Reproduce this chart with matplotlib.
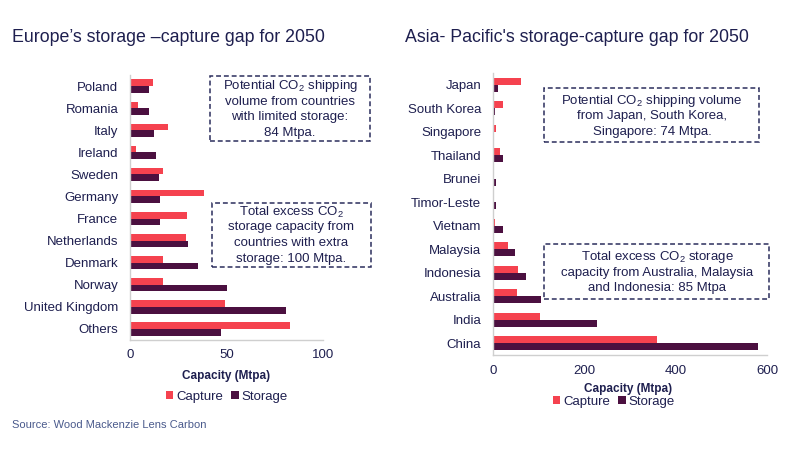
import matplotlib
matplotlib.use("Agg")
import matplotlib.pyplot as plt
import numpy as np
from matplotlib.patches import Rectangle

plt.rcParams['font.family'] = ['Liberation Sans', 'DejaVu Sans']
plt.rcParams['mathtext.fontset'] = 'custom'
plt.rcParams['mathtext.rm'] = 'Liberation Sans'
plt.rcParams['mathtext.it'] = 'Liberation Sans:italic'

# ---- data ----
eu_countries = ["Poland", "Romania", "Italy", "Ireland", "Sweden", "Germany", "France",
                "Netherlands", "Denmark", "Norway", "United Kingdom", "Others"]
eu_capture = [11.7, 4.3, 19.8, 2.9, 16.9, 38.6, 29.3, 29.0, 16.9, 17.2, 49.1, 83.1]
eu_storage = [9.8, 9.8, 12.4, 13.4, 15.2, 15.7, 15.7, 30.0, 35.2, 50.3, 80.7, 47.2]
eu_ticks = [0, 50, 100]

ap_countries = ["Japan", "South Korea", "Singapore", "Thailand", "Brunei", "Timor-Leste",
                "Vietnam", "Malaysia", "Indonesia", "Australia", "India", "China"]
ap_capture = [61, 22, 6, 16, 0, 0, 4, 33, 54, 53, 104, 360]
ap_storage = [10, 4, 0, 21, 6, 7, 21, 49, 72, 105, 227, 580]
ap_ticks = [0, 200, 400, 600]

series_names = ["Capture", "Storage"]
title_eu = "Europe\u2019s storage \u2013capture gap for 2050"
title_ap = "Asia- Pacific's storage-capture gap for 2050"
xlabel = "Capacity (Mtpa)"
source = "Source: Wood Mackenzie Lens Carbon"

eu_box1 = ["Potential CO$_\\mathrm{2}$ shipping", "volume from countries",
           "with limited storage:", "84 Mtpa."]
eu_box2 = ["Total excess CO$_\\mathrm{2}$", "storage capacity from",
           "countries with extra", "storage: 100 Mtpa."]
ap_box1 = ["Potential CO$_\\mathrm{2}$ shipping volume", "from Japan, South Korea,",
           "Singapore: 74 Mtpa."]
ap_box2 = ["Total excess CO$_\\mathrm{2}$ storage", "capacity from Australia, Malaysia",
           "and Indonesia: 85 Mtpa"]

CAP = "#F5424F"
STO = "#4B1040"
NAVY = "#1E1F4F"
GRID = "#CFCFCF"

W, H = 800, 450
fig = plt.figure(figsize=(8, 4.5), dpi=100)


def fx(px):
    return px / W


def fy(py):
    return 1 - py / H


def draw(ax, cats, cap, sto, ticks, xmax, pad_y, pad_x):
    y = np.arange(len(cats))
    h = 0.3
    ax.barh(y - h / 2, cap, height=h, color=CAP, label=series_names[0])
    ax.barh(y + h / 2, sto, height=h, color=STO, label=series_names[1])
    ax.set_ylim(len(cats) - 0.5, -0.5)
    ax.set_xlim(0, xmax)
    ax.set_yticks(y)
    ax.set_yticklabels(cats)
    ax.set_xticks(ticks)
    ax.tick_params(axis='both', length=0, labelsize=9.5, labelcolor=NAVY)
    ax.tick_params(axis='y', pad=pad_y)
    ax.tick_params(axis='x', pad=pad_x)
    for s in ['top', 'right']:
        ax.spines[s].set_visible(False)
    for s in ['left', 'bottom']:
        ax.spines[s].set_color(GRID)
        ax.spines[s].set_linewidth(1.0)
    ax.set_facecolor('none')


ax1 = fig.add_axes([fx(130), fy(340), fx(323) - fx(130), (340 - 75) / H])
draw(ax1, eu_countries, eu_capture, eu_storage, eu_ticks, 100, 8.5, 6.5)
ax2 = fig.add_axes([fx(493), fy(355), fx(767) - fx(493), (355 - 73) / H])
draw(ax2, ap_countries, ap_capture, ap_storage, ap_ticks, 600, 8.5, 7.5)

# titles
fig.text(fx(12), fy(38), title_eu, fontsize=12.8, color=NAVY, ha='left', va='center')
fig.text(fx(405), fy(38), title_ap, fontsize=12.8, color=NAVY, ha='left', va='center')

# x labels
fig.text(fx(226), fy(376), xlabel, fontsize=8.5, fontweight='bold', color=NAVY,
         ha='center', va='center')
fig.text(fx(628), fy(389), xlabel, fontsize=8.5, fontweight='bold', color=NAVY,
         ha='center', va='center')

# legends
for ax, cx, cy in [(ax1, 227, 397), (ax2, 614, 402)]:
    ax.legend(loc='center', bbox_to_anchor=(fx(cx), fy(cy)), bbox_transform=fig.transFigure,
              ncol=2, frameon=False, fontsize=9.5, handlelength=0.55, handleheight=0.55,
              handletextpad=0.25, columnspacing=0.6, labelcolor=NAVY, borderpad=0)

# source
fig.text(fx(12), fy(425), source, fontsize=8, color="#4A5A8C", ha='left', va='center')


# annotation boxes
def box(x0, y0, x1, y1, lines, ys, cx):
    r = Rectangle((fx(x0), fy(y1)), fx(x1) - fx(x0), (y1 - y0) / H, transform=fig.transFigure,
                  fill=False, edgecolor="#2B2D5C", linewidth=1.1, linestyle=(0, (3.2, 1.9)))
    fig.add_artist(r)
    for t, yy in zip(lines, ys):
        fig.text(fx(cx), fy(yy), t, fontsize=9.5, color=NAVY, ha='center', va='center')


box(210, 76, 370, 141, eu_box1, [86, 102, 117, 133], 290)
box(212, 203, 371, 267, eu_box2, [212, 227, 243, 259], 291)
box(544, 88, 759, 142, ap_box1, [101, 116, 132], 652)
box(544, 244, 769, 299, ap_box2, [257, 273, 288], 657)

fig.savefig("out.png", dpi=100)
